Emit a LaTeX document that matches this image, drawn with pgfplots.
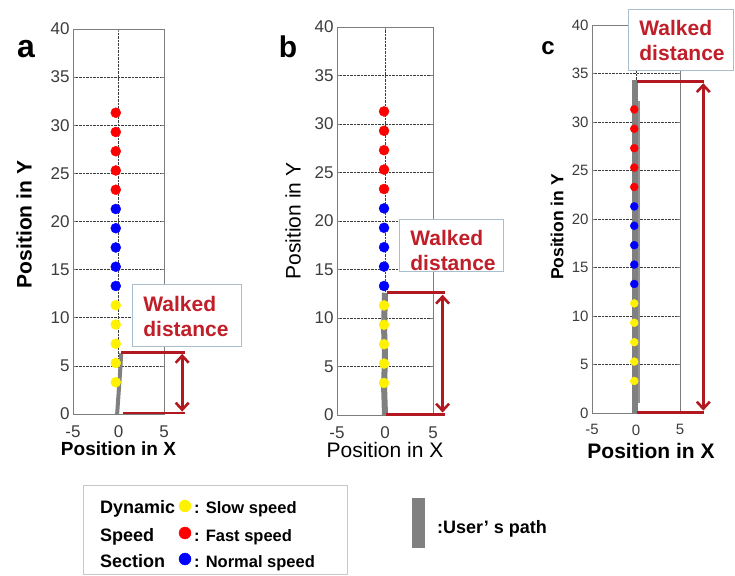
\documentclass[border=0pt]{standalone}
\usepackage{fontspec}
\setmainfont{Liberation Sans}
\usepackage{pgfplots}
\pgfplotsset{compat=1.18}
\usetikzlibrary{arrows.meta}

\definecolor{pathgray}{RGB}{128,128,128}
\definecolor{wdred}{RGB}{178,24,32}
\definecolor{wdtext}{RGB}{192,30,40}
\definecolor{boxedge}{RGB}{170,190,205}
\definecolor{gridc}{RGB}{60,60,60}
\definecolor{framec}{RGB}{125,125,125}
\definecolor{tickc}{RGB}{60,60,60}
\definecolor{legedge}{RGB}{200,200,200}

\pgfplotsset{
  panel/.style={
    scale only axis, anchor=south west,
    xmin=-5, xmax=5, ymin=0, ymax=40,
    xtick={-5,0,5}, ytick={0,5,...,40},
    grid=major,
    major grid style={densely dotted, gridc, line width=0.6pt},
    axis line style={framec, line width=0.8pt},
    tick style={framec, line width=0.6pt}, major tick length=3pt,
    tick label style={text=tickc},
    /pgf/number format/assume math mode=true,
    clip=false,
    xticklabel style={yshift=-8pt},
  },
  userpath/.style={pathgray, line width=#1, line cap=butt, no marks},
  slow/.style={only marks, mark=*, mark size=#1, color=yellow},
  normal/.style={only marks, mark=*, mark size=#1, color=blue},
  fast/.style={only marks, mark=*, mark size=#1, color=red},
  walked/.style={wdred, line width=2.6pt, no marks},
  walkarrow/.style={wdred, line width=2.6pt, no marks,
    {Straight Barb[length=7pt,width=13pt]}-{Straight Barb[length=7pt,width=13pt]}},
}

\begin{document}
\begin{tikzpicture}[x=1pt, y=1pt]
\useasboundingbox (0,0) rectangle (735,575);

% ---------------- panel a ----------------
\begin{axis}[panel, at={(73pt,161pt)}, width=91pt, height=385pt,
  tick label style={font=\fontsize{17}{17}\selectfont},
  ylabel={\bfseries Position in Y}, xlabel={\bfseries Position in X},
  ylabel style={font=\fontsize{21}{21}\selectfont, at={([xshift=-49pt,yshift=-3pt]axis description cs:0,0.5)}, anchor=center},
  xlabel style={font=\fontsize{19}{19}\selectfont, at={([yshift=-35pt]axis description cs:0.5,0)}, anchor=center},
]
\addplot[userpath=4pt] coordinates {(-0.15,0) (0,2) (0.15,4) (0.3,6.3)};
\addplot[slow=5pt]   coordinates {(-0.3,3.3) (-0.3,5.3) (-0.3,7.3) (-0.3,9.3) (-0.3,11.3)};
\addplot[normal=5pt] coordinates {(-0.3,13.3) (-0.3,15.3) (-0.3,17.3) (-0.3,19.3) (-0.3,21.3)};
\addplot[fast=5pt]   coordinates {(-0.3,23.3) (-0.3,25.3) (-0.3,27.3) (-0.3,29.3) (-0.3,31.3)};
\addplot[walked] coordinates {(0.3,6.4) (7.3,6.4)};
\addplot[walked] coordinates {(0.45,0.1) (7.3,0.1)};
\addplot[walkarrow] coordinates {(7.0,0.25) (7.0,6.25)};
\end{axis}

% ---------------- panel b ----------------
\begin{axis}[panel, at={(337pt,160pt)}, width=96pt, height=388pt,
  tick label style={font=\fontsize{17}{17}\selectfont},
  ylabel={Position in Y}, xlabel={Position in X},
  ylabel style={font=\fontsize{21}{21}\selectfont, at={([xshift=-44pt]axis description cs:0,0.5)}, anchor=center},
  xlabel style={font=\fontsize{21}{21}\selectfont, at={([yshift=-35pt]axis description cs:0.5,0)}, anchor=center},
]
\addplot[userpath=6pt] coordinates {(0,0) (-0.1,3) (0,6) (-0.1,9) (0,12.6)};
\addplot[slow=5pt]   coordinates {(-0.1,3.3) (-0.1,5.3) (-0.1,7.3) (-0.1,9.3) (-0.1,11.3)};
\addplot[normal=5pt] coordinates {(-0.1,13.3) (-0.1,15.3) (-0.1,17.3) (-0.1,19.3) (-0.1,21.3)};
\addplot[fast=5pt]   coordinates {(-0.1,23.3) (-0.1,25.3) (-0.1,27.3) (-0.1,29.3) (-0.1,31.3)};
\addplot[walked] coordinates {(0.25,12.6) (6.2,12.6)};
\addplot[walked] coordinates {(0.1,0.05) (6.2,0.05)};
\addplot[walkarrow] coordinates {(6.0,0.25) (6.0,12.4)};
\end{axis}

% ---------------- panel c ----------------
\begin{axis}[panel, at={(592pt,162pt)}, width=88pt, height=388pt,
  tick label style={font=\fontsize{15}{15}\selectfont},
  ylabel={\bfseries Position in Y}, xlabel={\bfseries Position in X},
  ylabel style={font=\fontsize{17.5}{17.5}\selectfont, at={([xshift=-35pt,yshift=-8pt]axis description cs:0,0.5)}, anchor=center},
  xlabel style={font=\fontsize{21}{21}\selectfont, at={([xshift=15pt,yshift=-38pt]axis description cs:0.5,0)}, anchor=center},
]
\addplot[userpath=3pt, pathgray!85] coordinates {(0.3,1) (0.3,32.2)};
\addplot[userpath=6pt] coordinates {(-0.15,0) (-0.15,34.3)};
\addplot[slow=4pt]   coordinates {(-0.2,3.3) (-0.2,5.3) (-0.2,7.3) (-0.2,9.3) (-0.2,11.3)};
\addplot[normal=4pt] coordinates {(-0.2,13.3) (-0.2,15.3) (-0.2,17.3) (-0.2,19.3) (-0.2,21.3)};
\addplot[fast=4pt]   coordinates {(-0.2,23.3) (-0.2,25.3) (-0.2,27.3) (-0.2,29.3) (-0.2,31.3)};
\addplot[walked] coordinates {(0.1,34.2) (7.7,34.2)};
\addplot[walked] coordinates {(0.1,0.05) (7.7,0.05)};
\addplot[walkarrow] coordinates {(7.65,0.25) (7.65,34.0)};
\end{axis}

% panel letters
\node[font=\fontsize{32}{32}\selectfont\bfseries, anchor=base] at (26,517) {a};
\node[font=\fontsize{30}{30}\selectfont\bfseries, anchor=base] at (288,517) {b};
\node[font=\fontsize{24}{24}\selectfont\bfseries, anchor=base] at (548,520) {c};

% "Walked distance" callouts
\tikzset{wdbox/.style={draw=boxedge, fill=white, line width=0.9pt},
         wdlabel/.style={text=wdtext, align=left, inner sep=0pt,
           font=\fontsize{21}{25}\selectfont\bfseries}}
\draw[wdbox] (132,229) rectangle (241,291);
\node[wdlabel] at (186,259) {Walked\\distance};
\draw[wdbox] (399,304) rectangle (503,356);
\node[wdlabel] at (453,325) {Walked\\distance};
\draw[wdbox] (628,505) rectangle (733,566);
\node[wdlabel] at (682,534) {Walked\\distance};

% legend
\draw[legedge, line width=0.9pt, fill=white] (83,0.5) rectangle (347,90);
\begin{axis}[at={(0pt,0pt)}, anchor=south west, scale only axis,
  width=735pt, height=100pt, xmin=0, xmax=735, ymin=0, ymax=100,
  hide axis, clip=false]
\addplot[slow=6pt]   coordinates {(185,69)};
\addplot[fast=6pt]   coordinates {(185,42)};
\addplot[normal=6pt] coordinates {(185,16)};
\addplot[userpath=13pt] coordinates {(418.5,27) (418.5,77)};
\end{axis}
\tikzset{legtext/.style={anchor=base west, inner sep=0pt, font=\fontsize{18}{18}\selectfont\bfseries},
         legitem/.style={anchor=base west, inner sep=0pt, font=\fontsize{16.5}{16.5}\selectfont\bfseries}}
\node[legtext] at (100,62) {Dynamic};
\node[legtext] at (100,34) {Speed};
\node[legtext] at (100,8) {Section};
\node[legitem] at (194,62) {: Slow speed};
\node[legitem] at (194,34) {: Fast speed};
\node[legitem] at (194,8) {: Normal speed};
\node[anchor=base west, inner sep=0pt, font=\fontsize{18}{18}\selectfont\bfseries] at (437,42) {:User’ s path};
\end{tikzpicture}
\end{document}
